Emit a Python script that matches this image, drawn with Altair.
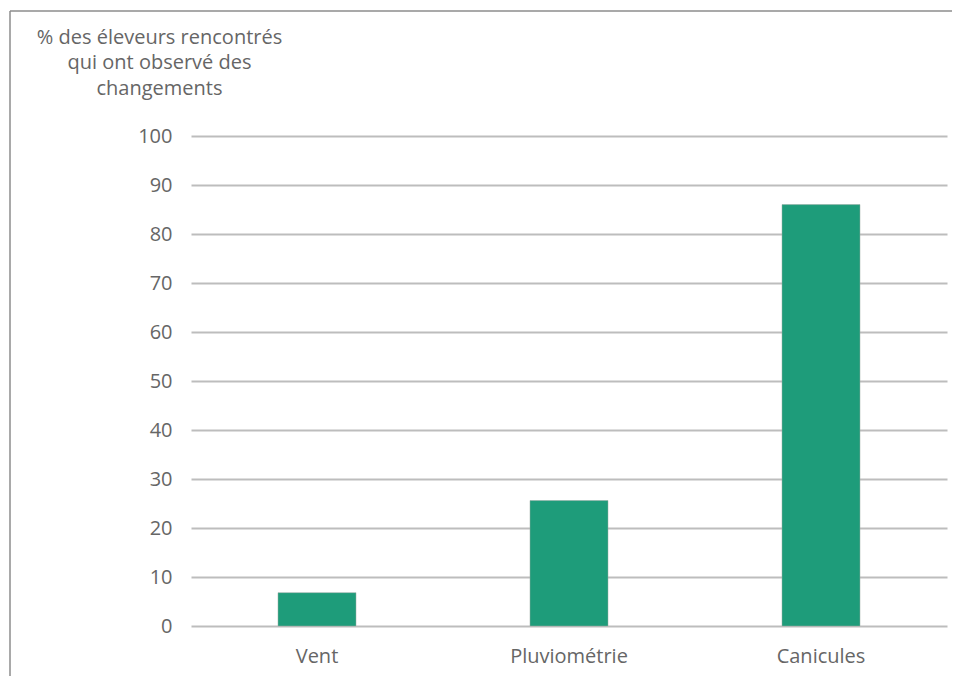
import altair as alt
import pandas as pd

categories = ["Vent", "Pluviométrie", "Canicules"]
values = [6.8, 25.6, 86.0]
y_ticks = [0, 10, 20, 30, 40, 50, 60, 70, 80, 90, 100]
title_lines = ["% des éleveurs rencontrés", "qui ont observé des", "changements"]

df = pd.DataFrame({"cat": categories, "val": values})

FONT = "Open Sans"
GRAY = "#666666"

bars = alt.Chart(df).mark_bar(size=78, color="#1e9c7a", stroke="#9aa8a2", strokeWidth=0.5).encode(
    x=alt.X("cat:N", sort=categories,
            scale=alt.Scale(paddingInner=0, paddingOuter=0),
            axis=alt.Axis(title=None, labelAngle=0, labelFont=FONT, labelFontSize=20,
                          labelColor=GRAY, labelPadding=20, ticks=False, domain=False)),
    y=alt.Y("val:Q", scale=alt.Scale(domain=[0, 100]),
            axis=alt.Axis(values=y_ticks, title=title_lines, titleAngle=0,
                          titleAlign="center", titleBaseline="top",
                          titleX=-32, titleY=-109, titleFont=FONT, titleFontSize=20,
                          titleFontWeight="normal", titleColor=GRAY, titleLineHeight=25.5,
                          labelFont=FONT, labelFontSize=20, labelColor=GRAY,
                          labelPadding=19, ticks=False, domain=False,
                          grid=True, gridColor="#bdbdbd", gridWidth=1.8)),
)

frame_df = pd.DataFrame({"k": [0]})
left_edge = alt.Chart(frame_df).mark_rule(color="#8c8c8c", strokeWidth=1.5).encode(
    x=alt.value(-181), y=alt.value(-125), y2=alt.value(900),
)
top_edge = alt.Chart(frame_df).mark_rule(color="#8c8c8c", strokeWidth=1.5).encode(
    x=alt.value(-181), x2=alt.value(1200), y=alt.value(-125),
)

chart = alt.layer(left_edge, top_edge, bars).properties(
    width=756, height=490,
    autosize=alt.AutoSizeParams(type="none"),
    padding={"left": 183, "top": 128, "right": 5, "bottom": 50},
).configure_view(stroke=None)

chart.save("out.html", embed_options={"renderer": "svg", "actions": False})
